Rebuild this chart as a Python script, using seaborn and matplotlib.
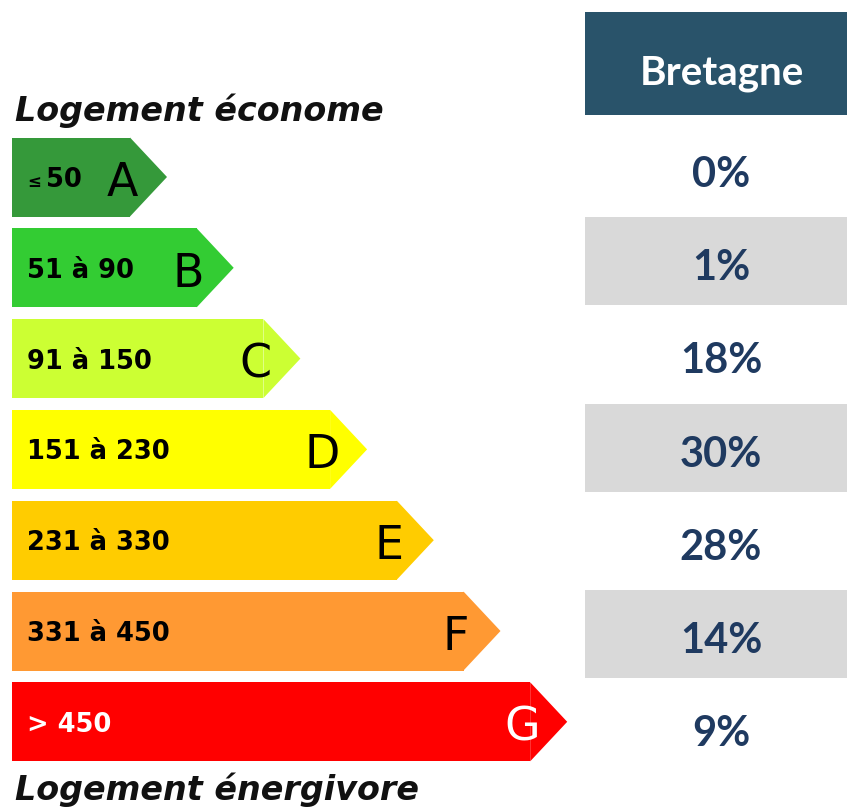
import matplotlib
matplotlib.use("Agg")
import matplotlib.pyplot as plt
import seaborn as sns

# ---------------- Data ----------------
classes = ["A", "B", "C", "D", "E", "F", "G"]
ranges = ["≤ 50", "51 à 90", "91 à 150", "151 à 230", "231 à 330", "331 à 450", "> 450"]
shares = [0, 1, 18, 30, 28, 14, 9]
region = "Bretagne"
top_label = "Logement économe"
bottom_label = "Logement énergivore"

colors = ["#35993a", "#33cc33", "#ccff33", "#ffff00", "#ffcc00", "#ff9933", "#ff0000"]
text_colors = ["black"] * 6 + ["white"]

# ---------------- Layout (pixel based) ----------------
W, H = 847, 809
ROW0, ROW_STEP = 177, 90.8       # pixel centre of first arrow, spacing
LEFT = 12                         # left edge of arrows
BASE_LEN, STEP_LEN, TIP = 118, 66.7, 37


def py2y(py):
    return (py - ROW0) / ROW_STEP


def px2x(px):
    return px - LEFT


lengths = [BASE_LEN + STEP_LEN * i for i in range(len(classes))]

sns.set_style("white")
fig = plt.figure(figsize=(W / 100, H / 100), dpi=100)
ax = fig.add_axes([0, 0, 1, 1])

# rectangular part of the arrows
sns.barplot(x=lengths, y=classes, hue=classes, palette=colors, orient="y",
            width=79 / ROW_STEP, legend=False, ax=ax, saturation=1,
            linewidth=0)

# arrow heads
half = 79 / ROW_STEP / 2
for i, (L, c) in enumerate(zip(lengths, colors)):
    ax.fill([L, L + TIP, L], [i - half, i, i + half], color=c, lw=0)

# labels inside arrows
for i, (rng, cls, tc, L) in enumerate(zip(ranges, classes, text_colors, lengths)):
    yb = i + 10 / ROW_STEP
    if rng.startswith("≤"):
        ax.text(px2x(27), yb, "≤", fontsize=12, fontweight="bold", color=tc,
                ha="left", va="baseline")
        ax.text(px2x(46), yb, rng[2:], fontsize=18.5, fontweight="bold", color=tc,
                ha="left", va="baseline")
    else:
        ax.text(px2x(27), yb, rng, fontsize=18.5, fontweight="bold", color=tc,
                ha="left", va="baseline")
    ax.text(L - 8, i + 19 / ROW_STEP, cls, fontsize=33, color=tc,
            ha="center", va="baseline")

# ---------------- Table ----------------
tx0 = 585 / W
ax.axhspan(py2y(115), py2y(12), xmin=tx0, xmax=1, color="#29536a", lw=0)
ax.text(px2x(722), py2y(84), region, fontsize=29, fontweight="bold",
        family="Lato", color="white", ha="center", va="baseline")

for i, s in enumerate(shares):
    top = 124 + 93.2 * i
    if i % 2 == 1:
        ax.axhspan(py2y(top + 88), py2y(top), xmin=tx0, xmax=1,
                   color="#d9d9d9", lw=0, zorder=0)
    ax.text(px2x(721), py2y(top + 63), f"{s}%", fontsize=30, fontweight="bold",
            family="Lato", color="#1f3a60", ha="center", va="baseline")

# headings
ax.text(px2x(15), py2y(121), top_label, fontsize=24, fontweight="bold",
        style="italic", color="#111111", ha="left", va="baseline")
ax.text(px2x(15), py2y(800), bottom_label, fontsize=24, fontweight="bold",
        style="italic", color="#111111", ha="left", va="baseline")

ax.set_xlim(px2x(0), px2x(W))
ax.set_ylim(py2y(H), py2y(0))
ax.axis("off")

fig.savefig("out.png", dpi=100)
